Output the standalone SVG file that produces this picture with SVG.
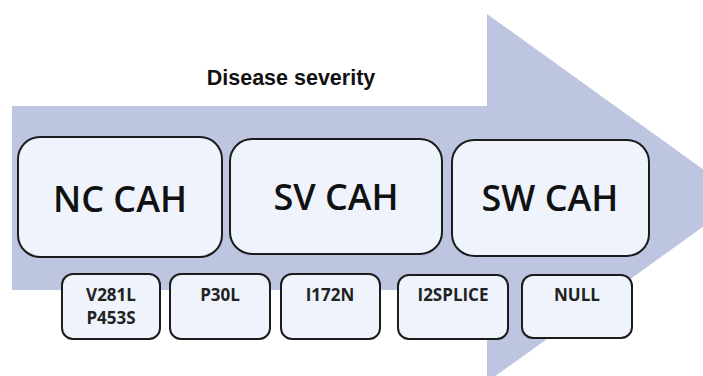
<svg xmlns="http://www.w3.org/2000/svg" width="703" height="376" viewBox="0 0 703 376">
<style>
.box{fill:#eef3fc;stroke:#1c1c1c;stroke-width:2}
.big{font-family:"Open Sans","DejaVu Sans",sans-serif;font-size:36px;font-weight:600;fill:#111;text-anchor:middle}
.small{font-family:"Open Sans","DejaVu Sans",sans-serif;font-size:17px;font-weight:700;fill:#222;text-anchor:middle}
.title{font-family:"Liberation Sans",Arial,sans-serif;font-size:21.5px;font-weight:700;fill:#111;text-anchor:middle}
</style>
<rect width="703" height="376" fill="#ffffff"/>
<g id="severity-arrow">
<polygon points="12,106 487,106 487,14 743,198 487,382 487,290 12,290" fill="#bdc5e0"/>
</g>
<text class="title" x="291" y="85">Disease severity</text>
<g id="connectors"></g>
<g id="nc-cah"><rect class="box" x="18" y="137" width="204" height="120" rx="22"/><text class="big" x="120" y="212">NC CAH</text></g>
<g id="sv-cah"><rect class="box" x="230" y="139" width="212" height="115" rx="22"/><text class="big" x="336" y="210">SV CAH</text></g>
<g id="sw-cah"><rect class="box" x="452" y="140" width="197" height="116" rx="22"/><text class="big" x="550" y="211">SW CAH</text></g>
<g id="v281l"><rect class="box" x="62" y="274" width="98" height="65" rx="11"/><text class="small" x="111" y="301">V281L</text><text class="small" x="111" y="324">P453S</text></g>
<g id="p30l"><rect class="box" x="170" y="274" width="100" height="65" rx="11"/><text class="small" x="220" y="301">P30L</text></g>
<g id="i172n"><rect class="box" x="281" y="274" width="99" height="65" rx="11"/><text class="small" x="330" y="301">I172N</text></g>
<g id="i2splice"><rect class="box" x="398" y="275" width="110" height="64" rx="11"/><text class="small" x="453" y="301">I2SPLICE</text></g>
<g id="null"><rect class="box" x="522" y="275" width="110" height="63" rx="11"/><text class="small" x="577" y="301">NULL</text></g>
</svg>
